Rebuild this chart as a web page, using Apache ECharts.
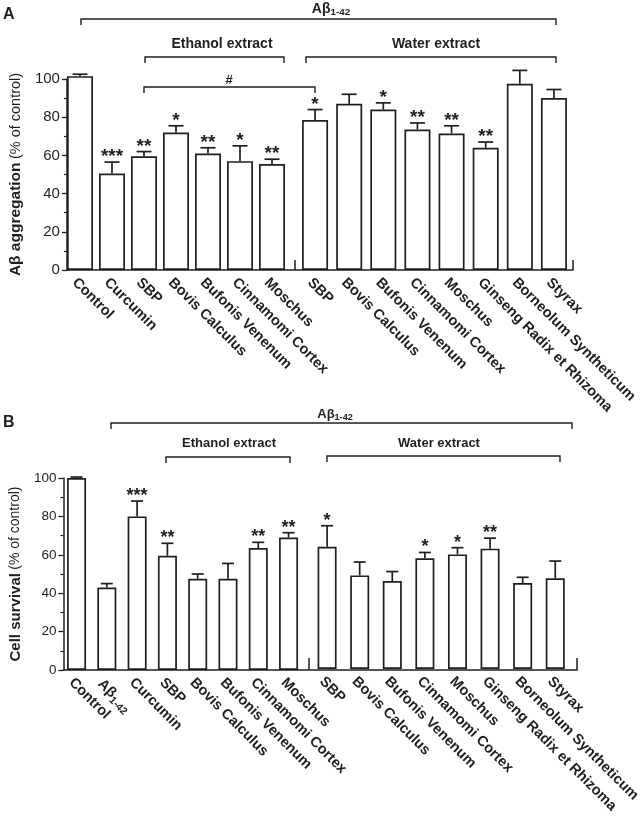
<!DOCTYPE html>
<html><head><meta charset="utf-8">
<script src="https://cdn.jsdelivr.net/npm/echarts@6/dist/echarts.min.js"></script>
<style>html,body{margin:0;padding:0;background:#fff}#c{width:643px;height:816px}</style>
</head><body><div id="c"></div>
<script>
// ---------- data ----------
const yTicks = [0, 20, 40, 60, 80, 100];

// Panel A: Aβ aggregation (% of control)
const aggEthCats = ['Control', 'Curcumin', 'SBP', 'Bovis Calculus', 'Bufonis Venenum', 'Cinnamomi Cortex', 'Moschus'];
const aggEthMean = [101.5, 50.5, 59.5, 72, 61, 57, 55.5];
const aggEthSem  = [1, 6, 2.5, 3.5, 3, 8, 2.5];
const aggEthSig  = ['', '***', '**', '*', '**', '*', '**'];
const aggWatCats = ['SBP', 'Bovis Calculus', 'Bufonis Venenum', 'Cinnamomi Cortex', 'Moschus', 'Ginseng Radix et Rhizoma', 'Borneolum Syntheticum', 'Styrax'];
const aggWatMean = [78.5, 87, 84, 73.5, 71.5, 64, 97.5, 90];
const aggWatSem  = [5.5, 5, 3.5, 3.5, 4, 3, 7, 4.5];
const aggWatSig  = ['*', '', '*', '**', '**', '**', '', ''];

// Panel B: Cell survival (% of control)
const survEthCats = ['Control', 'Aβ1-42', 'Curcumin', 'SBP', 'Bovis Calculus', 'Bufonis Venenum', 'Cinnamomi Cortex', 'Moschus'];
const survEthMean = [100, 43, 80, 59.5, 47.5, 47.5, 63.5, 69];
const survEthSem  = [0.5, 2, 8, 6.5, 2.5, 8, 3, 2.5];
const survEthSig  = ['', '', '***', '**', '', '', '**', '**'];
const survWatCats = ['SBP', 'Bovis Calculus', 'Bufonis Venenum', 'Cinnamomi Cortex', 'Moschus', 'Ginseng Radix et Rhizoma', 'Borneolum Syntheticum', 'Styrax'];
const survWatMean = [64, 49, 46, 58, 60, 63, 45, 47.5];
const survWatSem  = [11, 7, 5, 3, 3.5, 5.5, 3, 9];
const survWatSig  = ['*', '', '', '*', '*', '**', '', ''];

// ---------- styling ----------
const FONT = "'Liberation Sans', Arial, Helvetica, sans-serif";
const INK = '#1f1f1f';
const chart = echarts.init(document.getElementById('c'), null, {renderer: 'canvas'});

const yMin = yTicks[0], yMax = yTicks[yTicks.length - 1], yStep = yTicks[1] - yTicks[0];

const grids = [
  {left: 53, top: 79, width: 520, height: 191},      // 0 frame A
  {left: 64, top: 79, width: 224, height: 191},      // 1 A ethanol
  {left: 298, top: 79, width: 273, height: 191},     // 2 A water
  {left: 57, top: 478, width: 520, height: 192},     // 3 frame B
  {left: 61.4, top: 478, width: 242.3, height: 192}, // 4 B ethanol
  {left: 310.8, top: 478, width: 266.9, height: 192} // 5 B water
];

function frameX(gi) {
  return {type: 'value', gridIndex: gi, min: 0, max: 1,
    axisLine: {show: true, lineStyle: {color: INK, width: 1.5}},
    axisTick: {show: false}, axisLabel: {show: false}, splitLine: {show: false}};
}
function frameY(gi, bold, rest, fs, nfs, gap) {
  return {type: 'value', gridIndex: gi, min: yMin, max: yMax, interval: yStep,
    name: '{b|' + bold + '} {n|' + rest + '}', nameLocation: 'middle', nameRotate: 90, nameGap: gap,
    nameTextStyle: {rich: {b: {fontFamily: FONT, fontWeight: 'bold', fontSize: nfs + 1, color: INK},
                           n: {fontFamily: FONT, fontSize: nfs, color: INK}}},
    axisLine: {show: true, lineStyle: {color: INK, width: 1.5}},
    axisTick: {show: true, length: 5, lineStyle: {color: INK, width: 1.3}},
    minorTick: {show: true, splitNumber: 2, length: 3, lineStyle: {color: INK, width: 1.2}},
    axisLabel: {fontFamily: FONT, fontSize: fs, color: INK, margin: 7},
    splitLine: {show: false}};
}
function catX(gi, cats, fs) {
  return {type: 'category', gridIndex: gi, data: cats,
    axisLine: {show: false}, axisTick: {show: false},
    axisLabel: {interval: 0, rotate: -45, margin: 5, verticalAlign: 'top', align: 'left',
      fontFamily: FONT, fontWeight: 'bold', fontSize: fs, color: INK,
      formatter: v => v === 'Aβ1-42' ? 'Aβ{sub|1-42}' : v,
      rich: {sub: {fontFamily: FONT, fontWeight: 'bold', fontSize: fs * 0.72, color: INK, verticalAlign: 'bottom', padding: [9, 0, 0, 0]}}}};
}
function hiddenY(gi) {
  return {type: 'value', gridIndex: gi, min: yMin, max: yMax, interval: yStep, show: false};
}

function barSeries(ai, mean, bw) {
  return {type: 'bar', xAxisIndex: ai, yAxisIndex: ai, data: mean, barWidth: bw, clip: false, z: 2,
    itemStyle: {color: '#ffffff', borderColor: INK, borderWidth: 1.7}, animation: false};
}
function errSeries(ai, mean, sem, sig, capW, starFs) {
  return {type: 'custom', xAxisIndex: ai, yAxisIndex: ai, clip: false, z: 3, animation: false,
    data: mean.map((m, i) => [i, m, m + sem[i]]),
    renderItem: function (params, api) {
      const x = api.value(0);
      const p0 = api.coord([x, api.value(1)]);
      const p1 = api.coord([x, api.value(2)]);
      const ch = [
        {type: 'line', shape: {x1: p0[0], y1: p0[1], x2: p1[0], y2: p1[1]}, style: {stroke: INK, lineWidth: 1.7}},
        {type: 'line', shape: {x1: p1[0] - capW / 2, y1: p1[1], x2: p1[0] + capW / 2, y2: p1[1]}, style: {stroke: INK, lineWidth: 1.7}}
      ];
      const s = sig[params.dataIndex];
      if (s) ch.push({type: 'text', x: p1[0], y: p1[1] - 5,
        style: {text: s, fill: INK, font: 'bold ' + starFs + 'px ' + FONT, align: 'center', verticalAlign: 'middle',
                textAlign: 'center', textVerticalAlign: 'middle'}});
      return {type: 'group', children: ch};
    }};
}

function bracket(x1, x2, y, leg) {
  return {type: 'polyline', silent: true,
    shape: {points: [[x1, y + leg], [x1, y], [x2, y], [x2, y + leg]]},
    style: {stroke: INK, lineWidth: 1.4, fill: null}};
}
function label(x, y, txt, fs) {
  return {type: 'text', x: x, y: y, silent: true,
    style: {text: txt, fill: INK, font: 'bold ' + fs + 'px ' + FONT, align: 'center', verticalAlign: 'middle'}};
}
function abLabel(x, y, fs) {
  return {type: 'text', x: x, y: y, silent: true,
    style: {text: '{a|Aβ}{s|1-42}', align: 'center', verticalAlign: 'middle',
      rich: {a: {fontFamily: FONT, fontWeight: 'bold', fontSize: fs, fill: INK, color: INK},
             s: {fontFamily: FONT, fontWeight: 'bold', fontSize: fs * 0.7, fill: INK, color: INK, padding: [7, 0, 0, 0]}}}};
}
function vtick(x, y, h) {
  return {type: 'line', silent: true, shape: {x1: x, y1: y, x2: x, y2: y - h}, style: {stroke: INK, lineWidth: 1.5}};
}

const option = {
  animation: false,
  backgroundColor: '#ffffff',
  grid: grids,
  xAxis: [frameX(0), catX(1, aggEthCats, 14.5), catX(2, aggWatCats, 14.5),
          frameX(3), catX(4, survEthCats, 14.5), catX(5, survWatCats, 14.5)],
  yAxis: [frameY(0, 'Aβ aggregation', '(% of control)', 15, 14.5, 35), hiddenY(1), hiddenY(2),
          frameY(3, 'Cell survival', '(% of control)', 13.5, 14, 37), hiddenY(4), hiddenY(5)],
  series: [
    barSeries(1, aggEthMean, 26), errSeries(1, aggEthMean, aggEthSem, aggEthSig, 15, 19),
    barSeries(2, aggWatMean, 26), errSeries(2, aggWatMean, aggWatSem, aggWatSig, 15, 19),
    barSeries(4, survEthMean, 19), errSeries(4, survEthMean, survEthSem, survEthSig, 12, 18),
    barSeries(5, survWatMean, 19), errSeries(5, survWatMean, survWatSem, survWatSig, 12, 18)
  ],
  graphic: [
    {type: 'text', x: 3, y: 7, style: {text: 'A', fill: INK, font: 'bold 16px ' + FONT}},
    abLabel(331, 9, 14),
    bracket(81, 556, 19, 6),
    label(222, 44, 'Ethanol extract', 14),
    bracket(145, 284, 57, 6),
    label(436, 44, 'Water extract', 14),
    bracket(306, 556, 57, 6),
    label(229, 80, '#', 13),
    bracket(144, 315, 87, 6),
    vtick(295, 270, 10), vtick(573, 270, 10),

    {type: 'text', x: 3, y: 415, style: {text: 'B', fill: INK, font: 'bold 16px ' + FONT}},
    abLabel(335, 414, 13),
    bracket(111, 572, 423, 6),
    label(229, 443, 'Ethanol extract', 13),
    bracket(166, 290, 457, 6),
    label(439, 443, 'Water extract', 13),
    bracket(327, 560, 456, 6),
    vtick(309, 670, 12), vtick(577, 670, 12)
  ]
};
chart.setOption(option);
</script>
</body></html>
